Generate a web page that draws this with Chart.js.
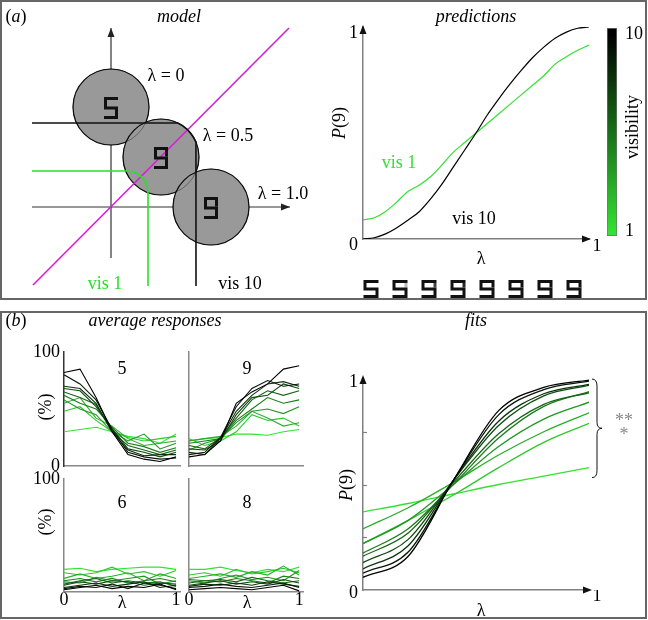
<!DOCTYPE html>
<html><head><meta charset="utf-8">
<script src="https://cdn.jsdelivr.net/npm/chart.js@4.4.1/dist/chart.umd.min.js"></script>
<style>
html,body{margin:0;padding:0;background:#fff;}
#root{position:relative;width:648px;height:620px;overflow:hidden;font-family:"Liberation Serif","DejaVu Serif",serif;}
canvas{position:absolute;left:0;top:0;}
.box{position:absolute;box-sizing:border-box;border:2px solid #666;}
.t{position:absolute;white-space:nowrap;font-size:18px;line-height:1;transform:translate(-50%,-50%);color:#000;font-family:"Liberation Serif","DejaVu Serif",serif;}
.rot{transform:translate(-50%,-50%) rotate(-90deg);}
</style></head><body><div id="root">
<div class="box" style="left:0;top:0;width:647px;height:300px"></div>
<div class="box" style="left:0;top:311px;width:647px;height:308px"></div>
<canvas id="cModel" width="648" height="620"></canvas>
<canvas id="cPred" width="648" height="620"></canvas>
<canvas id="cBar" width="648" height="620"></canvas>
<canvas id="cR5" width="648" height="620"></canvas>
<canvas id="cR9" width="648" height="620"></canvas>
<canvas id="cR6" width="648" height="620"></canvas>
<canvas id="cR8" width="648" height="620"></canvas>
<canvas id="cFits" width="648" height="620"></canvas>
<div id="labels"></div>
</div>
<script>
// ---------------- DATA ----------------
// model schematic (units: axes cross at 0,0)
const modelCenters = [{x:0,y:2},{x:1,y:1},{x:2,y:0}];   // lambda = 0, 0.5, 1.0
const modelDigits = [0, 1, 1];                           // 0 -> "5", 1 -> "9"
const modelAxisX = [{x:-1.58,y:0},{x:3.58,y:0}];
const modelAxisY = [{x:0,y:-1.02},{x:0,y:3.58}];
const diagonal = [{x:-1.56,y:-1.56},{x:3.56,y:3.58}];
const boundaryVis10 = [{x:-1.58,y:1.68},{x:1.339,y:1.68},{x:1.436,y:1.623},{x:1.518,y:1.556},{x:1.591,y:1.478},{x:1.651,y:1.391},{x:1.699,y:1.299},{x:1.70,y:-1.58}];
const boundaryVis1 = [{x:-1.58,y:0.72},{x:0.32,y:0.72},{x:0.429,y:0.706},{x:0.53,y:0.664},{x:0.617,y:0.597},{x:0.684,y:0.51},{x:0.726,y:0.409},{x:0.74,y:0.30},{x:0.74,y:-1.58}];

// predictions
const lambdaFine = [0,0.05,0.1,0.15,0.2,0.25,0.3,0.35,0.4,0.45,0.5,0.55,0.6,0.65,0.7,0.75,0.8,0.85,0.9,0.95,1];
const predVis10 = [0,0.006,0.024,0.053,0.09,0.13,0.19,0.26,0.34,0.42,0.5,0.585,0.66,0.73,0.795,0.855,0.905,0.947,0.976,0.994,1];
const predVis1 = [0.09,0.10,0.13,0.175,0.225,0.255,0.295,0.35,0.41,0.455,0.5,0.545,0.59,0.635,0.68,0.725,0.77,0.825,0.86,0.89,0.915];
const morphUpperRight = [0,0.3,0.8,0.9,1,1,1,1];           // 8 stimuli 5 -> 9
const visibilityTicks = [1,10];
const colorbarRange = [0.8,10.3];
const probTicks = [0,1];
const lambdaEndTick = [1];

// average responses (%), rows = visibility 1..10, cols = lambda steps
const lambdaSteps = [0,0.143,0.286,0.429,0.571,0.714,0.857,1];
const pctTicks = [0,100];
const resp5 = [
 [30,32,34,30,26,24,20,28],
 [48,52,40,30,25,22,24,26],
 [55,60,42,35,24,18,20,22],
 [58,50,45,30,22,28,15,20],
 [62,55,50,34,20,17,12,16],
 [65,60,54,30,18,14,10,14],
 [68,66,52,33,15,12,8,12],
 [70,68,55,30,14,9,10,10],
 [80,72,58,32,12,8,6,7],
 [82,85,60,30,10,6,4,8]];
const resp9 = [
 [22,24,25,28,28,27,30,32],
 [24,18,22,30,45,40,42,35],
 [22,24,26,35,48,42,35,38],
 [14,20,24,38,48,50,46,52],
 [20,22,24,40,50,60,55,58],
 [18,15,25,42,58,66,62,66],
 [15,14,22,45,60,62,72,68],
 [12,10,24,48,62,72,74,70],
 [10,12,25,52,68,75,70,72],
 [8,10,22,55,65,72,85,88]];
const resp6 = [
 [20,21,18,20,21,22,22,20],
 [17,15,17,22,16,18,14,19],
 [12,16,12,14,17,10,16,12],
 [9,8,13,10,12,14,7,10],
 [10,12,9,12,8,10,12,9],
 [7,10,12,8,10,8,9,5],
 [6,9,7,10,9,6,8,7],
 [4,6,8,5,7,9,4,6],
 [3,5,4,7,3,8,6,3],
 [2,4,6,3,5,4,7,2]];
const resp8 = [
 [20,20,22,19,17,20,18,22],
 [15,17,14,20,16,18,21,17],
 [12,14,16,13,18,15,23,15],
 [10,8,12,15,11,13,10,19],
 [11,10,9,12,10,8,14,12],
 [8,10,11,9,13,10,8,10],
 [6,8,10,7,9,7,11,8],
 [5,7,6,8,6,9,7,5],
 [4,5,7,5,4,6,8,4],
 [2,3,4,3,2,4,6,1]];

// fits P(9), rows = visibility 1..10
const fitLambda = [0,0.2,0.4,0.6,0.8,1];
const fitCurves = [
 [0.37,0.41,0.455,0.50,0.54,0.58],
 [0.22,0.33,0.45,0.58,0.70,0.79],
 [0.29,0.39,0.51,0.64,0.75,0.84],
 [0.22,0.33,0.50,0.68,0.81,0.89],
 [0.175,0.29,0.50,0.72,0.87,0.94],
 [0.16,0.27,0.51,0.74,0.88,0.935],
 [0.13,0.24,0.52,0.78,0.92,0.97],
 [0.10,0.21,0.52,0.80,0.93,0.975],
 [0.08,0.18,0.52,0.83,0.95,0.99],
 [0.06,0.16,0.52,0.85,0.96,0.995]];
const fitMinorTicks = [0.25,0.5,0.75];

// ---------------- SETUP ----------------
const W = 648, H = 620;
const SERIF = '"Liberation Serif","DejaVu Serif",serif';
Chart.defaults.font.family = SERIF;
Chart.defaults.font.size = 18;
Chart.defaults.color = '#000';
Chart.defaults.animation = false;
Chart.defaults.events = [];
Chart.defaults.layout.autoPadding = false;
Chart.defaults.plugins.legend.display = false;
Chart.defaults.plugins.tooltip.enabled = false;

function visColor(k){ const t=(k-1)/9; return `rgb(${Math.round(50*(1-t))},${Math.round(225*(1-t))},${Math.round(50*(1-t))})`; }
const GREEN = visColor(1);

function layoutFor(a, yW, xH, yRight){
  return {autoPadding:false, padding:{left: yRight ? a.l : a.l - yW, top: a.t, right: yRight ? W - a.r - yW : W - a.r, bottom: H - a.b - xH}};
}
function axis(o){
  return {
    type:'linear', position:o.position, min:o.min, max:o.max,
    grid:{display:false, drawTicks:false},
    border:{display:o.border !== false, color:o.color || '#808080', width:o.width || 1.5},
    ticks:{display:o.ticks.length>0, padding:o.padding ?? 4, labelOffset:o.labelOffset || 0, autoSkip:false, maxRotation:0,
      font:{family:SERIF,size:18}, color:'#000', callback:v=>String(v)},
    afterBuildTicks:s=>{ s.ticks=(o.ticks.length?o.ticks:[o.min]).map(v=>({value:v})); },
    afterFit:s=>{ if (s.isHorizontal()) s.height=o.size; else s.width=o.size; }
  };
}
function tri(ctx, x, y, dir, len, half){
  ctx.beginPath();
  if (dir==='up'){ ctx.moveTo(x,y); ctx.lineTo(x-half,y+len); ctx.lineTo(x+half,y+len); }
  else { ctx.moveTo(x,y); ctx.lineTo(x-len,y-half); ctx.lineTo(x-len,y+half); }
  ctx.closePath(); ctx.fill();
}
const arrowPlugin = {
  id:'arrows',
  afterDraw(chart, args, o){
    if (!o || !o.on) return;
    const {ctx, chartArea:a} = chart;
    ctx.save();
    ctx.strokeStyle=o.lineColor; ctx.lineWidth=1.5;
    ctx.beginPath(); ctx.moveTo(a.left,a.top); ctx.lineTo(a.left,a.top-o.extY+4);
    ctx.moveTo(a.right,a.bottom); ctx.lineTo(a.right+o.extX-4,a.bottom); ctx.stroke();
    ctx.fillStyle='#111';
    tri(ctx, a.left, a.top-o.extY, 'up', 9, 3.5);
    tri(ctx, a.right+o.extX, a.bottom, 'right', 9, 3.5);
    ctx.restore();
  }
};
function drawDigit(ctx, cx, cy, w, h, lw, ur){
  const l=cx-w/2, r=cx+w/2, t=cy-h/2, b=cy+h/2;
  ctx.save(); ctx.lineWidth=lw; ctx.lineJoin='miter'; ctx.lineCap='butt'; ctx.strokeStyle='#111';
  ctx.beginPath(); ctx.moveTo(r+lw/2,t); ctx.lineTo(l,t); ctx.lineTo(l,cy); ctx.lineTo(r,cy); ctx.lineTo(r,b); ctx.lineTo(l-lw/2,b); ctx.stroke();
  if (ur>0){ ctx.globalAlpha=ur; ctx.beginPath(); ctx.moveTo(r,t+lw/2); ctx.lineTo(r,cy-lw/2); ctx.stroke(); }
  ctx.restore();
}

// ---------------- MODEL ----------------
const modelArea = {l:1,t:2,r:321,b:297};
const modelPlugin = {
  id:'modelDecor',
  afterDatasetsDraw(chart){
    const {ctx, scales:{x,y}} = chart;
    ctx.save(); ctx.fillStyle='#222';
    const ex = modelAxisX[modelAxisX.length-1], ey = modelAxisY[modelAxisY.length-1];
    tri(ctx, x.getPixelForValue(ex.x), y.getPixelForValue(ex.y), 'right', 9, 3.5);
    tri(ctx, x.getPixelForValue(ey.x), y.getPixelForValue(ey.y), 'up', 9, 3.5);
    ctx.restore();
    modelCenters.forEach((c,i)=>{
      drawDigit(ctx, x.getPixelForValue(c.x), y.getPixelForValue(c.y)+1, 11, 19, 3, modelDigits[i]);
    });
  }
};
const lineDs = (data, color, width, order) => ({data, showLine:true, borderColor:color, borderWidth:width, pointRadius:0, fill:false, order, tension:0});
new Chart(document.getElementById('cModel'), {
  type:'scatter',
  data:{datasets:[
    lineDs(modelAxisX,'#333',1.2,10),
    lineDs(modelAxisY,'#333',1.2,10),
    {data:modelCenters, pointRadius:38, pointBackgroundColor:'#999', pointBorderColor:'#111', pointBorderWidth:1.2, showLine:false, order:9},
    {data:modelCenters, pointRadius:38, pointBackgroundColor:'rgba(0,0,0,0)', pointBorderColor:'rgba(0,0,0,0.35)', pointBorderWidth:1, showLine:false, order:8},
    lineDs(diagonal,'rgb(215,30,215)',1.6,7),
    lineDs(boundaryVis10,'#111',1.6,6),
    lineDs(boundaryVis1,'rgb(40,225,40)',1.6,5)
  ]},
  options:{responsive:false, layout:layoutFor(modelArea,0,0), clip:false,
    scales:{x:{type:'linear',display:false,min:-2.2,max:4.2}, y:{type:'linear',display:false,min:-1.8,max:4.1}}},
  plugins:[modelPlugin]
});

// ---------------- PREDICTIONS ----------------
const predArea = {l:363,t:27,r:589,b:239};
const toXY = (xs, ys) => xs.map((v,i)=>({x:v,y:ys[i]}));
const digitRowPlugin = {
  id:'digitRow',
  afterDraw(chart){
    const {ctx, chartArea:a} = chart;
    morphUpperRight.forEach((u,i)=>{
      drawDigit(ctx, a.left + 8 + i*29, 289, 12, 15, 3, u);
    });
  }
};
new Chart(document.getElementById('cPred'), {
  type:'scatter',
  data:{datasets:[
    {data:toXY(lambdaFine,predVis10), showLine:true, borderColor:'#000', borderWidth:1.2, pointRadius:0, cubicInterpolationMode:'monotone'},
    {data:toXY(lambdaFine,predVis1), showLine:true, borderColor:GREEN, borderWidth:1.2, pointRadius:0, cubicInterpolationMode:'monotone'}
  ]},
  options:{responsive:false, layout:layoutFor(predArea,40,30),
    plugins:{arrows:{on:true, extX:2, extY:2, lineColor:'#808080'}},
    scales:{
      x:axis({position:'bottom',min:0,max:1,ticks:lambdaEndTick,size:30,padding:-4,labelOffset:8}),
      y:axis({position:'left',min:0,max:1,ticks:probTicks,size:40,padding:5,labelOffset:6})
    }},
  plugins:[arrowPlugin, digitRowPlugin]
});

// colorbar
const barArea = {l:607,t:28,r:617,b:236};
new Chart(document.getElementById('cBar'), {
  type:'bar',
  data:{labels:['visibility'], datasets:[{data:[colorbarRange], barPercentage:1, categoryPercentage:1, borderWidth:1, borderColor:'rgba(0,0,0,0.55)', borderSkipped:false,
    backgroundColor:(c)=>{ const ch=c.chart; const ys=ch.scales.y; if(!ch.chartArea||!ys) return GREEN;
      const g=ch.ctx.createLinearGradient(0, ys.getPixelForValue(visibilityTicks[0]), 0, ys.getPixelForValue(visibilityTicks[1]));
      g.addColorStop(0, visColor(1)); g.addColorStop(1, visColor(10)); return g; }}]},
  options:{responsive:false, layout:layoutFor(barArea,40,0,true),
    scales:{ x:{display:false}, y:axis({position:'right',min:colorbarRange[0],max:colorbarRange[1],ticks:visibilityTicks,size:40,padding:8,border:false}) }}
});

// ---------------- AVERAGE RESPONSES ----------------
function respChart(id, series, area, showY, showX, yColor){
  const datasets = series.map((row,i)=>({data:toXY(lambdaSteps,row), showLine:true, borderColor:visColor(i+1), borderWidth:1.1, pointRadius:0, order:10-(i+1)}));
  new Chart(document.getElementById(id), {
    type:'scatter', data:{datasets},
    options:{responsive:false, layout:layoutFor(area,40,30),
      scales:{
        x:axis({position:'bottom',min:0,max:1.035,ticks:showX,size:30,padding:-3,color:'#888'}),
        y:axis({position:'left',min:0,max:100,ticks:showY,size:40,padding:4,color:yColor||'#888'})
      }}
  });
}
respChart('cR5', resp5, {l:64,t:352,r:180,b:466}, pctTicks, [], '#333');
respChart('cR9', resp9, {l:189,t:352,r:303,b:466}, [], []);
respChart('cR6', resp6, {l:64,t:479,r:180,b:592}, [100], probTicks);
respChart('cR8', resp8, {l:189,t:479,r:303,b:592}, [], probTicks);

// ---------------- FITS ----------------
const fitsArea = {l:363,t:379,r:589,b:590};
const fitsDecor = {
  id:'fitsDecor',
  afterDraw(chart){
    const {ctx, chartArea:a, scales:{y}} = chart;
    ctx.save(); ctx.strokeStyle='#808080'; ctx.lineWidth=1.2;
    fitMinorTicks.forEach(v=>{ const py=Math.round(y.getPixelForValue(v))+0.5; ctx.beginPath(); ctx.moveTo(a.left,py); ctx.lineTo(a.left+4,py); ctx.stroke(); });
    const ends = fitCurves.map(r=>r[r.length-1]);
    const yt = y.getPixelForValue(Math.max(...ends)) - 1, yb = y.getPixelForValue(Math.min(...ends)) + 10;
    const ym = (yt+yb)/2, x0 = a.right + 3;
    ctx.strokeStyle='#111'; ctx.lineWidth=1;
    ctx.beginPath();
    ctx.moveTo(x0, yt);
    ctx.quadraticCurveTo(x0+5, yt, x0+5, yt+7);
    ctx.lineTo(x0+5, ym-6);
    ctx.quadraticCurveTo(x0+5, ym, x0+10, ym);
    ctx.quadraticCurveTo(x0+5, ym, x0+5, ym+6);
    ctx.lineTo(x0+5, yb-7);
    ctx.quadraticCurveTo(x0+5, yb, x0, yb);
    ctx.stroke();
    ctx.restore();
  }
};
new Chart(document.getElementById('cFits'), {
  type:'scatter',
  data:{datasets: fitCurves.map((row,i)=>({data:toXY(fitLambda,row), showLine:true, borderColor:visColor(i+1), borderWidth:1.3, pointRadius:0, cubicInterpolationMode:'monotone', order:10-(i+1)}))},
  options:{responsive:false, layout:layoutFor(fitsArea,40,30),
    plugins:{arrows:{on:true, extX:3, extY:4, lineColor:'#808080'}},
    scales:{
      x:axis({position:'bottom',min:0,max:1,ticks:lambdaEndTick,size:30,padding:-5,labelOffset:8}),
      y:axis({position:'left',min:0,max:1,ticks:probTicks,size:40,padding:5,labelOffset:3})
    }},
  plugins:[arrowPlugin, fitsDecor]
});

// ---------------- TEXT ----------------
const texts = [
  [16,16,'(<i>a</i>)'], [179,16,'<i>model</i>'],
  [166,75,'λ = 0'], [228,135,'λ = 0.5'], [283,193,'λ = 1.0'],
  [105,283,'vis 1','color:rgb(40,225,40)'], [240,283,'vis 10'],
  [476,16,'<i>predictions</i>'], [339,123,'<i>P</i>(9)','',true],
  [399,162,'vis 1','color:rgb(50,225,50)'], [474,218,'vis 10'], [481,258,'λ'],
  [632,127,'visibility','',true],
  [16,320,'(<i>b</i>)'], [155,320,'<i>average responses</i>'],
  [45,407,'(%)','',true], [45,522,'(%)','',true],
  [122,368,'5'], [247,368,'9'], [122,502,'6'], [247,502,'8'],
  [122,602,'λ'], [247,602,'λ'],
  [476,320,'<i>fits</i>'], [346,485,'<i>P</i>(9)','',true], [481,610,'λ'],
  [624,420,'**','color:#888'], [624,434,'*','color:#888']
];
const lab = document.getElementById('labels');
texts.forEach(([x,y,h,st,rot])=>{
  const d=document.createElement('div'); d.className='t'+(rot?' rot':''); d.style.cssText=`left:${x}px;top:${y}px;${st||''}`; d.innerHTML=h; lab.appendChild(d);
});
</script>
</body></html>
